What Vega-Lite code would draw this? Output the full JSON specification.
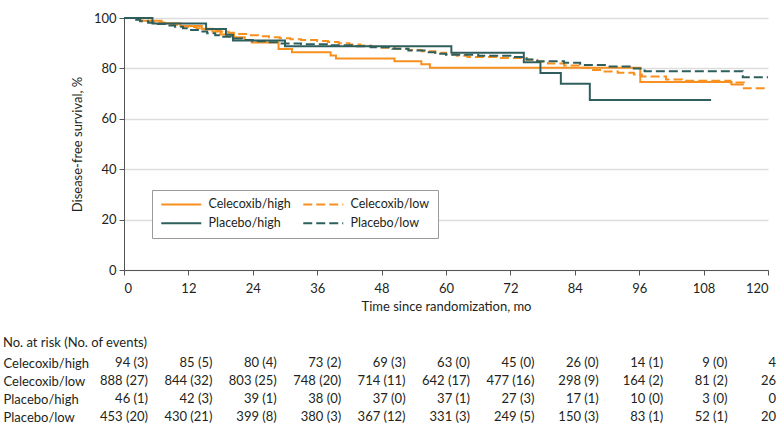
{
  "$schema": "https://vega.github.io/schema/vega-lite/v6.json",
  "padding": {"left": 3, "top": 12, "right": 0, "bottom": 0},
  "background": "white",
  "spacing": 24,
  "config": {
    "font": "Lato",
    "view": {"stroke": null},
    "axis": {
      "labelFont": "Lato", "titleFont": "Lato", "labelFontSize": 13, "titleFontSize": 13,
      "titleFontWeight": "normal", "labelColor": "#231f20", "titleColor": "#231f20",
      "domainColor": "#555555", "tickColor": "#555555"
    },
    "title": {"font": "Lato", "fontSize": 13, "fontWeight": "normal", "color": "#231f20"}
  },
  "datasets": {
    "curves": [
      {"g": "Celecoxib/high", "t": 0, "s": 100}, {"g": "Celecoxib/high", "t": 3, "s": 98.9}, {"g": "Celecoxib/high", "t": 7, "s": 97.9}, {"g": "Celecoxib/high", "t": 10.5, "s": 96.8}, {"g": "Celecoxib/high", "t": 14.5, "s": 95.7}, {"g": "Celecoxib/high", "t": 16.5, "s": 94.6}, {"g": "Celecoxib/high", "t": 18, "s": 93.5}, {"g": "Celecoxib/high", "t": 20.5, "s": 92.4}, {"g": "Celecoxib/high", "t": 22.5, "s": 91.3}, {"g": "Celecoxib/high", "t": 23.8, "s": 90.3}, {"g": "Celecoxib/high", "t": 28.8, "s": 87.7}, {"g": "Celecoxib/high", "t": 31.3, "s": 86.4}, {"g": "Celecoxib/high", "t": 38.5, "s": 85.1}, {"g": "Celecoxib/high", "t": 39.5, "s": 83.9}, {"g": "Celecoxib/high", "t": 50.4, "s": 82.8}, {"g": "Celecoxib/high", "t": 55.4, "s": 81.6}, {"g": "Celecoxib/high", "t": 57, "s": 80.3}, {"g": "Celecoxib/high", "t": 96.2, "s": 74.6}, {"g": "Celecoxib/high", "t": 113.2, "s": 73.6}, {"g": "Celecoxib/high", "t": 115.5, "s": 73.6},
      {"g": "Celecoxib/low", "t": 0, "s": 100}, {"g": "Celecoxib/low", "t": 1.5, "s": 99.5}, {"g": "Celecoxib/low", "t": 3, "s": 99.0}, {"g": "Celecoxib/low", "t": 4.5, "s": 98.6}, {"g": "Celecoxib/low", "t": 6, "s": 98.2}, {"g": "Celecoxib/low", "t": 7.5, "s": 97.7}, {"g": "Celecoxib/low", "t": 9, "s": 97.3}, {"g": "Celecoxib/low", "t": 10.5, "s": 96.8}, {"g": "Celecoxib/low", "t": 12, "s": 96.4}, {"g": "Celecoxib/low", "t": 13.5, "s": 95.9}, {"g": "Celecoxib/low", "t": 15, "s": 95.4}, {"g": "Celecoxib/low", "t": 16.5, "s": 94.9}, {"g": "Celecoxib/low", "t": 18, "s": 94.5}, {"g": "Celecoxib/low", "t": 19.5, "s": 94.1}, {"g": "Celecoxib/low", "t": 21, "s": 93.7}, {"g": "Celecoxib/low", "t": 23, "s": 93.2}, {"g": "Celecoxib/low", "t": 25, "s": 92.8}, {"g": "Celecoxib/low", "t": 27, "s": 92.4}, {"g": "Celecoxib/low", "t": 29, "s": 92.0}, {"g": "Celecoxib/low", "t": 31, "s": 91.6}, {"g": "Celecoxib/low", "t": 33, "s": 91.3}, {"g": "Celecoxib/low", "t": 36, "s": 90.9}, {"g": "Celecoxib/low", "t": 38, "s": 90.5}, {"g": "Celecoxib/low", "t": 40, "s": 90.0}, {"g": "Celecoxib/low", "t": 42, "s": 89.5}, {"g": "Celecoxib/low", "t": 44, "s": 89.1}, {"g": "Celecoxib/low", "t": 46, "s": 88.6}, {"g": "Celecoxib/low", "t": 48, "s": 88.2}, {"g": "Celecoxib/low", "t": 50.5, "s": 87.8}, {"g": "Celecoxib/low", "t": 53, "s": 87.3}, {"g": "Celecoxib/low", "t": 55.5, "s": 86.8}, {"g": "Celecoxib/low", "t": 58, "s": 86.2}, {"g": "Celecoxib/low", "t": 60, "s": 85.6}, {"g": "Celecoxib/low", "t": 62, "s": 85.0}, {"g": "Celecoxib/low", "t": 64, "s": 84.5}, {"g": "Celecoxib/low", "t": 70, "s": 84.1}, {"g": "Celecoxib/low", "t": 75, "s": 83.4}, {"g": "Celecoxib/low", "t": 77, "s": 82.6}, {"g": "Celecoxib/low", "t": 79, "s": 81.9}, {"g": "Celecoxib/low", "t": 82, "s": 81.2}, {"g": "Celecoxib/low", "t": 85, "s": 80.3}, {"g": "Celecoxib/low", "t": 87, "s": 79.4}, {"g": "Celecoxib/low", "t": 89, "s": 78.8}, {"g": "Celecoxib/low", "t": 92, "s": 78.3}, {"g": "Celecoxib/low", "t": 95, "s": 77.6}, {"g": "Celecoxib/low", "t": 96.5, "s": 76.8}, {"g": "Celecoxib/low", "t": 101, "s": 75.6}, {"g": "Celecoxib/low", "t": 104, "s": 75.1}, {"g": "Celecoxib/low", "t": 113, "s": 74.4}, {"g": "Celecoxib/low", "t": 115.5, "s": 72.1}, {"g": "Celecoxib/low", "t": 120, "s": 72.1},
      {"g": "Placebo/high", "t": 0, "s": 100}, {"g": "Placebo/high", "t": 5.3, "s": 97.8}, {"g": "Placebo/high", "t": 15.3, "s": 95.6}, {"g": "Placebo/high", "t": 19, "s": 93.4}, {"g": "Placebo/high", "t": 20.3, "s": 91.1}, {"g": "Placebo/high", "t": 30, "s": 88.8}, {"g": "Placebo/high", "t": 61, "s": 86.2}, {"g": "Placebo/high", "t": 74.5, "s": 82.4}, {"g": "Placebo/high", "t": 77.6, "s": 78.2}, {"g": "Placebo/high", "t": 81.4, "s": 73.9}, {"g": "Placebo/high", "t": 86.8, "s": 67.5}, {"g": "Placebo/high", "t": 109.4, "s": 67.5},
      {"g": "Placebo/low", "t": 0, "s": 100}, {"g": "Placebo/low", "t": 1.5, "s": 99.3}, {"g": "Placebo/low", "t": 3, "s": 98.7}, {"g": "Placebo/low", "t": 4.5, "s": 98.1}, {"g": "Placebo/low", "t": 6, "s": 97.6}, {"g": "Placebo/low", "t": 8, "s": 97.0}, {"g": "Placebo/low", "t": 9.5, "s": 96.5}, {"g": "Placebo/low", "t": 11, "s": 95.9}, {"g": "Placebo/low", "t": 12.5, "s": 95.2}, {"g": "Placebo/low", "t": 14, "s": 94.6}, {"g": "Placebo/low", "t": 15.5, "s": 93.9}, {"g": "Placebo/low", "t": 17, "s": 93.2}, {"g": "Placebo/low", "t": 18.5, "s": 92.6}, {"g": "Placebo/low", "t": 20, "s": 91.9}, {"g": "Placebo/low", "t": 22, "s": 91.3}, {"g": "Placebo/low", "t": 24, "s": 90.8}, {"g": "Placebo/low", "t": 26.5, "s": 90.4}, {"g": "Placebo/low", "t": 29, "s": 89.9}, {"g": "Placebo/low", "t": 33, "s": 89.6}, {"g": "Placebo/low", "t": 38, "s": 89.2}, {"g": "Placebo/low", "t": 43, "s": 88.8}, {"g": "Placebo/low", "t": 46, "s": 88.4}, {"g": "Placebo/low", "t": 50, "s": 87.8}, {"g": "Placebo/low", "t": 53, "s": 87.1}, {"g": "Placebo/low", "t": 56, "s": 86.4}, {"g": "Placebo/low", "t": 58, "s": 85.8}, {"g": "Placebo/low", "t": 60, "s": 85.4}, {"g": "Placebo/low", "t": 66, "s": 85.0}, {"g": "Placebo/low", "t": 72, "s": 84.5}, {"g": "Placebo/low", "t": 75, "s": 83.5}, {"g": "Placebo/low", "t": 77, "s": 82.8}, {"g": "Placebo/low", "t": 82, "s": 82.2}, {"g": "Placebo/low", "t": 85, "s": 81.3}, {"g": "Placebo/low", "t": 90, "s": 80.8}, {"g": "Placebo/low", "t": 95, "s": 80.0}, {"g": "Placebo/low", "t": 97, "s": 78.9}, {"g": "Placebo/low", "t": 115.3, "s": 76.5}, {"g": "Placebo/low", "t": 120, "s": 76.5}
    ],
    "risk": [
      {"g": "Celecoxib/high", "t": 0, "label": "94 (3)"}, {"g": "Celecoxib/high", "t": 12, "label": "85 (5)"}, {"g": "Celecoxib/high", "t": 24, "label": "80 (4)"}, {"g": "Celecoxib/high", "t": 36, "label": "73 (2)"}, {"g": "Celecoxib/high", "t": 48, "label": "69 (3)"}, {"g": "Celecoxib/high", "t": 60, "label": "63 (0)"}, {"g": "Celecoxib/high", "t": 72, "label": "45 (0)"}, {"g": "Celecoxib/high", "t": 84, "label": "26 (0)"}, {"g": "Celecoxib/high", "t": 96, "label": "14 (1)"}, {"g": "Celecoxib/high", "t": 108, "label": "9 (0)"}, {"g": "Celecoxib/high", "t": 120, "label": "4"},
      {"g": "Celecoxib/low", "t": 0, "label": "888 (27)"}, {"g": "Celecoxib/low", "t": 12, "label": "844 (32)"}, {"g": "Celecoxib/low", "t": 24, "label": "803 (25)"}, {"g": "Celecoxib/low", "t": 36, "label": "748 (20)"}, {"g": "Celecoxib/low", "t": 48, "label": "714 (11)"}, {"g": "Celecoxib/low", "t": 60, "label": "642 (17)"}, {"g": "Celecoxib/low", "t": 72, "label": "477 (16)"}, {"g": "Celecoxib/low", "t": 84, "label": "298 (9)"}, {"g": "Celecoxib/low", "t": 96, "label": "164 (2)"}, {"g": "Celecoxib/low", "t": 108, "label": "81 (2)"}, {"g": "Celecoxib/low", "t": 120, "label": "26"},
      {"g": "Placebo/high", "t": 0, "label": "46 (1)"}, {"g": "Placebo/high", "t": 12, "label": "42 (3)"}, {"g": "Placebo/high", "t": 24, "label": "39 (1)"}, {"g": "Placebo/high", "t": 36, "label": "38 (0)"}, {"g": "Placebo/high", "t": 48, "label": "37 (0)"}, {"g": "Placebo/high", "t": 60, "label": "37 (1)"}, {"g": "Placebo/high", "t": 72, "label": "27 (3)"}, {"g": "Placebo/high", "t": 84, "label": "17 (1)"}, {"g": "Placebo/high", "t": 96, "label": "10 (0)"}, {"g": "Placebo/high", "t": 108, "label": "3 (0)"}, {"g": "Placebo/high", "t": 120, "label": "0"},
      {"g": "Placebo/low", "t": 0, "label": "453 (20)"}, {"g": "Placebo/low", "t": 12, "label": "430 (21)"}, {"g": "Placebo/low", "t": 24, "label": "399 (8)"}, {"g": "Placebo/low", "t": 36, "label": "380 (3)"}, {"g": "Placebo/low", "t": 48, "label": "367 (12)"}, {"g": "Placebo/low", "t": 60, "label": "331 (3)"}, {"g": "Placebo/low", "t": 72, "label": "249 (5)"}, {"g": "Placebo/low", "t": 84, "label": "150 (3)"}, {"g": "Placebo/low", "t": 96, "label": "83 (1)"}, {"g": "Placebo/low", "t": 108, "label": "52 (1)"}, {"g": "Placebo/low", "t": 120, "label": "20"}
    ]
  },
  "vconcat": [
    {
      "width": 644,
      "height": 252,
      "data": {"name": "curves"},
      "mark": {"type": "line", "interpolate": "step-after", "strokeWidth": 2},
      "encoding": {
        "x": {
          "field": "t", "type": "quantitative",
          "scale": {"domain": [0, 120], "nice": false},
          "axis": {"values": [0, 12, 24, 36, 48, 60, 72, 84, 96, 108, 120], "title": "Time since randomization, mo", "grid": false, "tickSize": 5, "labelPadding": 7, "titlePadding": 5}
        },
        "y": {
          "field": "s", "type": "quantitative",
          "scale": {"domain": [0, 100], "nice": false},
          "axis": {"values": [0, 20, 40, 60, 80, 100], "title": "Disease-free survival, %", "grid": true, "gridColor": "#dddddd", "gridWidth": 1.5, "tickSize": 5, "labelPadding": 3, "titlePadding": 9}
        },
        "color": {
          "field": "g", "type": "nominal",
          "scale": {"domain": ["Celecoxib/high", "Celecoxib/low", "Placebo/high", "Placebo/low"], "range": ["#f7901e", "#f7901e", "#2f5f5c", "#2f5f5c"]},
          "legend": {
            "title": null, "orient": "none", "legendX": 28, "legendY": 172, "columns": 2, "direction": "horizontal",
            "strokeColor": "#9a9a9a", "fillColor": "white", "padding": 8,
            "symbolType": "M-1,0H7", "symbolSize": 100, "symbolStrokeWidth": 2,
            "labelFont": "Lato", "labelFontSize": 12.5, "labelColor": "#231f20", "labelOffset": 36,
            "columnPadding": 8, "rowPadding": 6
          }
        },
        "strokeDash": {
          "field": "g", "type": "nominal",
          "scale": {"domain": ["Celecoxib/high", "Celecoxib/low", "Placebo/high", "Placebo/low"], "range": [[1, 0], [9, 4], [1, 0], [9, 4]]}
        }
      }
    },
    {
      "width": 644,
      "height": 72,
      "title": {"text": "No. at risk (No. of events)", "anchor": "start", "frame": "bounds", "offset": 4},
      "data": {"name": "risk"},
      "encoding": {
        "x": {"field": "t", "type": "quantitative", "scale": {"domain": [0, 120], "nice": false}, "axis": null},
        "y": {
          "field": "g", "type": "nominal",
          "sort": ["Celecoxib/high", "Celecoxib/low", "Placebo/high", "Placebo/low"],
          "axis": {"title": null, "domain": false, "ticks": false, "grid": false, "labelAlign": "left", "labelPadding": 121}
        }
      },
      "layer": [
        {
          "transform": [{"filter": "datum.t < 120"}],
          "mark": {"type": "text", "align": "right", "dx": 24, "font": "Lato", "fontSize": 13, "color": "#231f20"},
          "encoding": {"text": {"field": "label"}}
        },
        {
          "transform": [{"filter": "datum.t == 120"}],
          "mark": {"type": "text", "align": "right", "dx": 8, "font": "Lato", "fontSize": 13, "color": "#231f20"},
          "encoding": {"text": {"field": "label"}}
        }
      ]
    }
  ]
}
